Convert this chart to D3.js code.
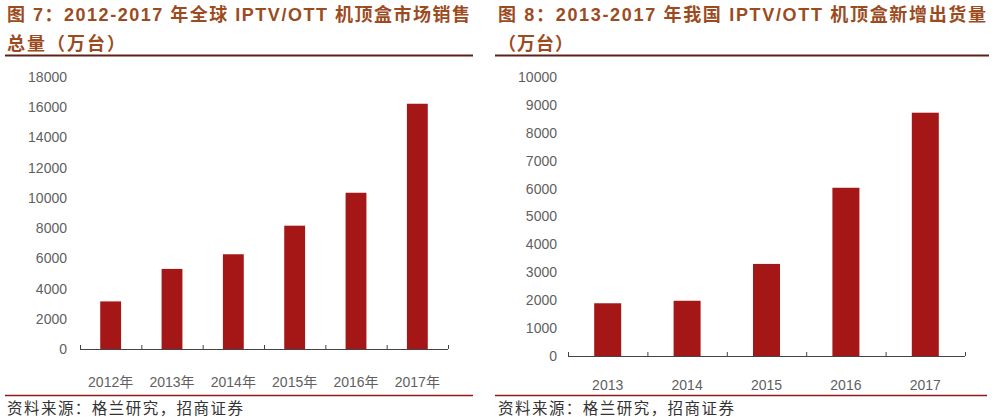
<!DOCTYPE html>
<html><head><meta charset="utf-8">
<script src="https://cdn.jsdelivr.net/npm/d3@7/dist/d3.min.js"></script>
<style>
body{margin:0;background:#fff;}
svg{display:block;}
</style></head>
<body>
<svg id="c" width="1000" height="417"></svg>
<script>
// ---- data ----
const leftCategories = ["2012年","2013年","2014年","2015年","2016年","2017年"];
const leftValues = [3150, 5300, 6270, 8160, 10340, 16230];
const leftTicks = [0,2000,4000,6000,8000,10000,12000,14000,16000,18000];
const leftTitle1 = "图 7：2012-2017 年全球 IPTV/OTT 机顶盒市场销售";
const leftTitle2 = "总量（万台）";

const rightCategories = ["2013","2014","2015","2016","2017"];
const rightValues = [1890, 1980, 3300, 6030, 8720];
const rightTicks = [0,1000,2000,3000,4000,5000,6000,7000,8000,9000,10000];
const rightTitle1 = "图 8：2013-2017 年我国 IPTV/OTT 机顶盒新增出货量";
const rightTitle2 = "（万台）";

const sourceText = "资料来源：格兰研究，招商证券";

const svg = d3.select("#c");
const barColor = "#A51616";
const titleColor = "#9C4B1E";
const labelColor = "#5f5f5f";
const fontLatin = "'Liberation Sans', Arial, 'Noto Sans CJK SC', sans-serif";

function panel(cfg){
  const g = svg.append("g");
  // title
  g.append("text").attr("x", cfg.left).attr("y", 21)
    .attr("font-family", fontLatin).attr("font-weight","bold")
    .attr("font-size", 18).attr("fill", titleColor)
    .attr("textLength", cfg.title1Len).attr("lengthAdjust","spacing")
    .text(cfg.title1);
  g.append("text").attr("x", cfg.left).attr("y", 50)
    .attr("font-family", fontLatin).attr("font-weight","bold")
    .attr("font-size", 18).attr("fill", titleColor)
    .attr("letter-spacing", cfg.title2Spacing)
    .text(cfg.title2);
  g.append("line").attr("x1", cfg.lineL).attr("x2", cfg.lineR)
    .attr("y1", 55.5).attr("y2", 55.5)
    .attr("stroke", "#5C2418").attr("stroke-width", 2);

  const x = d3.scaleBand().domain(cfg.cats).range([cfg.x0, cfg.x1])
    .paddingInner(0.66).paddingOuter(0.33);
  const y = d3.scaleLinear().domain([0, cfg.ticks[cfg.ticks.length-1]]).range([cfg.y0, cfg.yTop]);

  // bars
  g.selectAll("rect.bar").data(cfg.vals).enter().append("rect")
    .attr("class","bar")
    .attr("x", (d,i)=>x(cfg.cats[i]))
    .attr("width", x.bandwidth())
    .attr("y", d=>y(d))
    .attr("height", d=>y(0)-y(d))
    .attr("fill", barColor);

  // y axis labels
  const ya = d3.axisLeft(y).tickValues(cfg.ticks).tickSize(0).tickPadding(0).tickFormat(d3.format("d"));
  const yg = g.append("g").attr("transform", `translate(${cfg.yLabelX},0)`).call(ya);
  yg.select(".domain").remove();
  yg.selectAll("text").attr("font-family", fontLatin).attr("font-size", 14).attr("fill", labelColor);

  // x axis: labels
  const xa = d3.axisBottom(x).tickSize(0).tickPadding(cfg.xPad);
  const xg = g.append("g").attr("transform", `translate(0,${cfg.y0})`).call(xa);
  xg.select(".domain").remove();
  xg.selectAll("text").attr("font-family", fontLatin).attr("font-size", 14).attr("fill", labelColor);

  // x axis line and boundary ticks
  const xb = d3.scaleLinear().domain([0, cfg.cats.length]).range([cfg.x0, cfg.x1]);
  const bg = g.append("g").attr("transform", `translate(0,${cfg.y0})`)
    .call(d3.axisTop(xb).tickValues(d3.range(cfg.cats.length+1)).tickSize(4).tickFormat(""));
  bg.select(".domain").attr("stroke", "#444").attr("d", `M${cfg.x0},0.5H${cfg.x1}`);
  bg.selectAll(".tick line").attr("stroke", "#444");

  // bottom line and source
  g.append("line").attr("x1", cfg.lineL).attr("x2", cfg.lineR2)
    .attr("y1", 395.5).attr("y2", 395.5)
    .attr("stroke", "#8E1A1A").attr("stroke-width", 1.5);
  g.append("text").attr("x", cfg.left).attr("y", 414)
    .attr("font-family", "'Noto Sans CJK SC', sans-serif")
    .attr("font-size", 15.5).attr("fill", "#333")
    .attr("textLength", 236).attr("lengthAdjust","spacing")
    .text(sourceText);
}

panel({left:7, lineL:5, lineR:473, lineR2:473, title1:leftTitle1, title1Len:463, title2:leftTitle2, title2Spacing:2,
  cats:leftCategories, vals:leftValues, ticks:leftTicks,
  x0:80, x1:448, y0:349, yTop:77, yLabelX:67, xPad:28});
panel({left:498, lineL:495, lineR:989, lineR2:987, title1:rightTitle1, title1Len:488, title2:rightTitle2, title2Spacing:1,
  cats:rightCategories, vals:rightValues, ticks:rightTicks,
  x0:568, x1:965, y0:356, yTop:77, yLabelX:557, xPad:24});
</script>
</body></html>
